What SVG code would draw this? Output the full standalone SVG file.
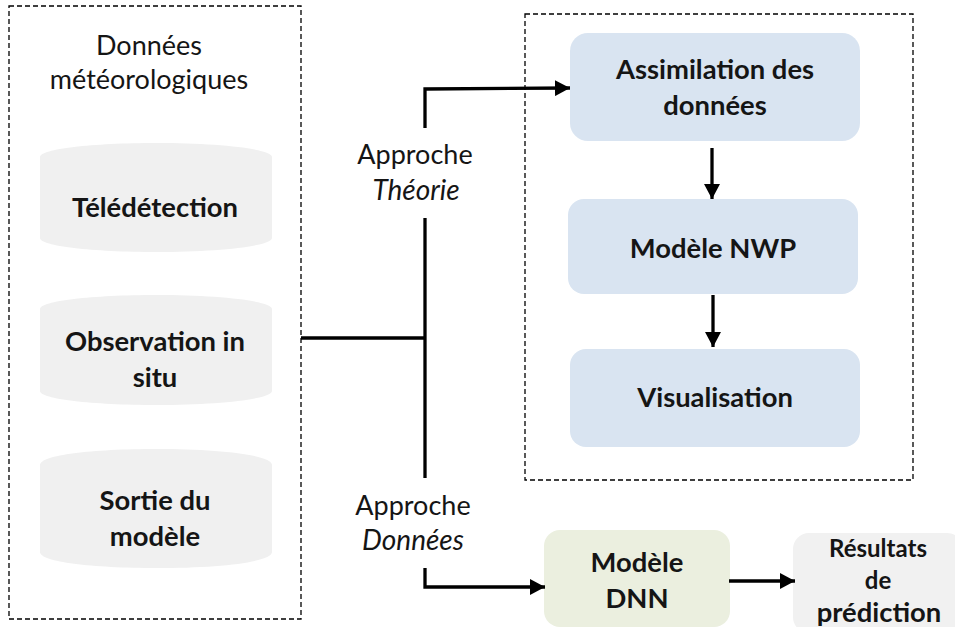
<svg xmlns="http://www.w3.org/2000/svg" width="955" height="627" viewBox="0 0 955 627">
<style>
text{font-family:Lato,"Liberation Sans",sans-serif;fill:#151515;text-anchor:middle}
.b{font-weight:700;font-size:27.4px}
.r{font-size:27px}
.i{font-size:28px;font-style:italic}
.frame{fill:none;stroke:#000;stroke-width:1.3;stroke-dasharray:5 3}
.cyl{fill:#f0f0f0}
.blue{fill:#d9e4f1}
.c{fill:none;stroke:#000;stroke-width:3.3}
</style>
<defs>
<marker id="ah" markerUnits="userSpaceOnUse" markerWidth="16" markerHeight="16" refX="15" refY="8" orient="auto"><path d="M0 0L15 8L0 16z" fill="#000"/></marker>
</defs>
<rect width="955" height="627" fill="#fff"/>
<g id="frame-left"><rect class="frame" x="9" y="6" width="292" height="613"/></g>
<g id="frame-right"><rect class="frame" x="525" y="14" width="388" height="466"/></g>
<text class="r" x="149" y="55">Données</text>
<text class="r" x="149" y="89">météorologiques</text>
<g id="teledetection"><path class="cyl" d="M40 157C40 149 92 143 156 143S272 149 272 157V238C272 246 220 252 156 252S40 246 40 238z"/><text class="b" x="155" y="217">Télédétection</text></g>
<g id="observation"><path class="cyl" d="M40 309C40 301 92 295 156 295S272 301 272 309V391C272 399 220 405 156 405S40 399 40 391z"/><text class="b" x="155" y="351">Observation in</text><text class="b" x="155" y="387">situ</text></g>
<g id="sortie"><path class="cyl" d="M40 465C40 455 92 449 156 449S272 455 272 465V552C272 562 220 568 156 568S40 562 40 552z"/><text class="b" x="155" y="510">Sortie du</text><text class="b" x="155" y="546">modèle</text></g>
<g id="assimilation"><rect class="blue" x="570" y="33" width="290" height="108" rx="18"/><text class="b" x="715" y="79">Assimilation des</text><text class="b" x="715" y="115">données</text></g>
<g id="nwp"><rect class="blue" x="568" y="199" width="290" height="95" rx="16"/><text class="b" x="713" y="258">Modèle NWP</text></g>
<g id="visualisation"><rect class="blue" x="570" y="349" width="290" height="98" rx="16"/><text class="b" x="715" y="407">Visualisation</text></g>
<g id="dnn"><rect x="544" y="530" width="186" height="97" rx="16" fill="#ebefdf"/><text class="b" x="637" y="572">Modèle</text><text class="b" x="637" y="608">DNN</text></g>
<g id="resultats"><rect x="793" y="533" width="170" height="100" rx="16" fill="#f1f1f1"/><text class="b" x="878" y="557" style="font-size:24px">Résultats</text><text class="b" x="878" y="589" style="font-size:24px">de</text><text class="b" x="879" y="622">prédiction</text></g>
<g id="label-theorie"><text class="r" x="415" y="164">Approche</text><text class="i" x="416" y="200">Théorie</text></g>
<g id="label-donnees"><text class="r" x="413" y="515">Approche</text><text class="i" x="413" y="550">Données</text></g>
<g id="connectors">
<path class="c" d="M301 338H425"/>
<path class="c" d="M425 218V478"/>
<path class="c" d="M425 128V89L570 88" marker-end="url(#ah)"/>
<path class="c" d="M425 568V587H545" marker-end="url(#ah)"/>
<path class="c" d="M712 148V199" marker-end="url(#ah)"/>
<path class="c" d="M713 295V347" marker-end="url(#ah)"/>
<path class="c" d="M729 581H795" marker-end="url(#ah)"/>
</g>
</svg>
